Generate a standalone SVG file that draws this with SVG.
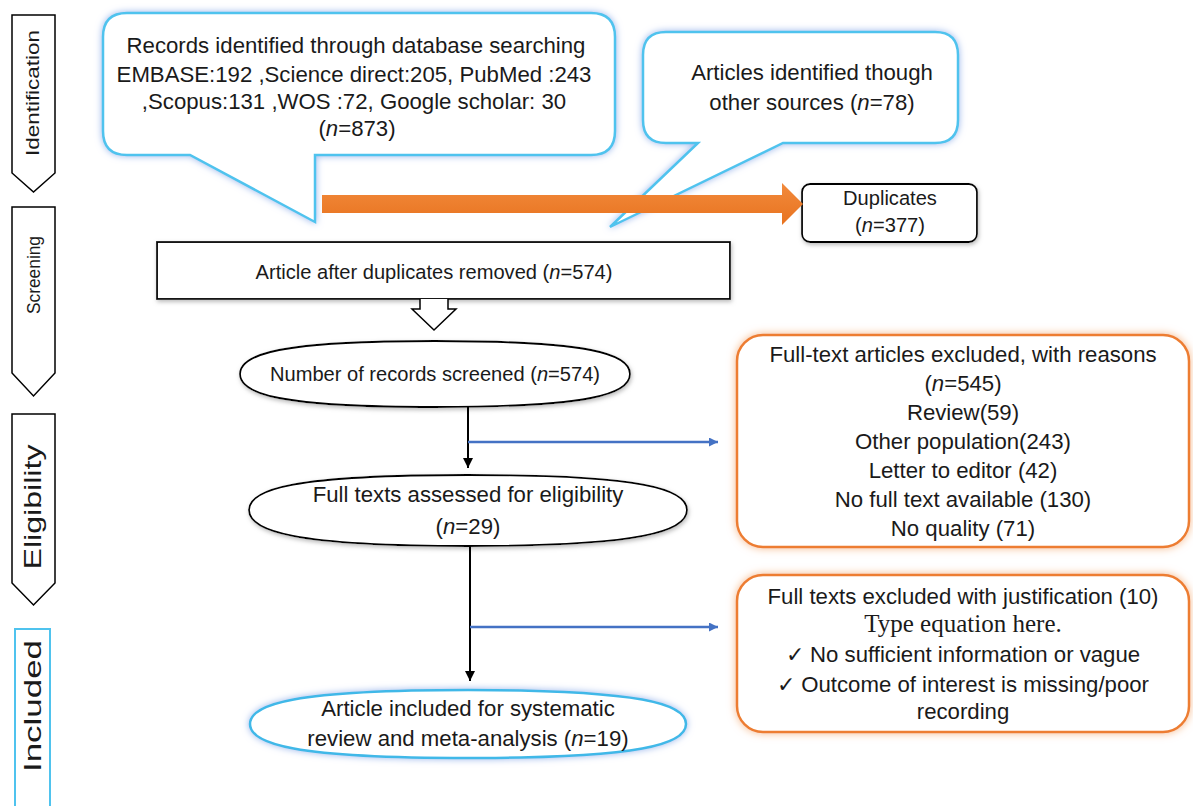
<svg xmlns="http://www.w3.org/2000/svg" width="1193" height="806" viewBox="0 0 1193 806">
<defs>
<style>
text{font-family:"Liberation Sans",Arial,sans-serif;fill:#1a1a1a;text-anchor:middle}
.t22{font-size:22.2px}
.t20{font-size:20.1px}
.it{font-style:italic}
.stage{fill:#fff;stroke:#000;stroke-width:1.5}
.callout{fill:#fff;stroke:#4FC3EE;stroke-width:2.5}
.black{fill:#fff;stroke:#000;stroke-width:1.8}
.orange{fill:#fff;stroke:#ED7D31;stroke-width:2.5}
.incl{fill:#fff;stroke:#3FB8E8;stroke-width:2.5}
.blk{stroke:#000;stroke-width:2;fill:none}
.blu{stroke:#4472C4;stroke-width:2.5;fill:none}
</style>
<filter id="glowB" x="-10%" y="-20%" width="120%" height="140%">
<feGaussianBlur in="SourceAlpha" stdDeviation="3.5" result="b"/>
<feFlood flood-color="#9bb6ec"/>
<feComposite operator="in" in2="b" result="g"/>
<feMerge><feMergeNode in="g"/><feMergeNode in="SourceGraphic"/></feMerge>
</filter>
<filter id="glowO" x="-10%" y="-20%" width="120%" height="140%">
<feGaussianBlur in="SourceAlpha" stdDeviation="4" result="b"/>
<feFlood flood-color="#F6B98C"/>
<feComposite operator="in" in2="b" result="g"/>
<feMerge><feMergeNode in="g"/><feMergeNode in="SourceGraphic"/></feMerge>
</filter>
<filter id="shadow" x="-10%" y="-20%" width="120%" height="150%">
<feGaussianBlur in="SourceAlpha" stdDeviation="2" result="b"/>
<feOffset dx="1" dy="2" in="b" result="o"/>
<feFlood flood-color="#bbbbbb"/>
<feComposite operator="in" in2="o" result="g"/>
<feMerge><feMergeNode in="g"/><feMergeNode in="SourceGraphic"/></feMerge>
</filter>
<linearGradient id="og" x1="0" y1="0" x2="0" y2="1">
<stop offset="0" stop-color="#F28A3C"/>
<stop offset="1" stop-color="#E8731F"/>
</linearGradient>
<marker id="ahK" viewBox="0 0 10 10" refX="10" refY="5" markerWidth="5" markerHeight="5" orient="auto" markerUnits="strokeWidth">
<path d="M0,0 L10,5 L0,10 Z" fill="#000"/>
</marker>
<marker id="ahB" viewBox="0 0 10 10" refX="10" refY="5" markerWidth="4" markerHeight="3.6" orient="auto" markerUnits="strokeWidth">
<path d="M0,0 L10,5 L0,10 Z" fill="#4472C4"/>
</marker>
</defs>
<rect width="1193" height="806" fill="#fff"/>

<g id="stage-identification">
<path class="stage" d="M12,15 H55 V173 L33.5,192 L12,173 Z"/>
<text transform="translate(33,93) rotate(-90)" y="6" style="font-size:18px" textLength="126" lengthAdjust="spacingAndGlyphs">Identification</text>
</g>
<g id="stage-screening">
<path class="stage" d="M12,207 H55 V373 L33.5,396 L12,373 Z"/>
<text transform="translate(33,275) rotate(-90)" y="6.5" style="font-size:19px" textLength="78" lengthAdjust="spacingAndGlyphs">Screening</text>
</g>
<g id="stage-eligibility">
<path class="stage" d="M12,414 H55 V583 L33.5,605 L12,583 Z"/>
<text transform="translate(33,507) rotate(-90)" y="8" style="font-size:24px" textLength="125" lengthAdjust="spacingAndGlyphs">Eligibility</text>
</g>
<g id="stage-included">
<rect x="15" y="629" width="35" height="190" fill="#fff" stroke="#4FC3EE" stroke-width="2"/>
<text transform="translate(33,706) rotate(-90)" y="8" style="font-size:24px" textLength="132" lengthAdjust="spacingAndGlyphs">Included</text>
</g>

<g id="node-database">
<path class="callout" filter="url(#glowB)" d="M127,13 H591 Q615,13 615,37 V131 Q615,155 591,155 H315 V222 L190,155 H127 Q103,155 103,131 V37 Q103,13 127,13 Z"/>
<text class="t22" x="356" y="53">Records identified through database searching</text>
<text class="t22" x="354" y="82">EMBASE:192 ,Science direct:205, PubMed :243</text>
<text class="t22" x="354" y="109">,Scopus:131 ,WOS :72, Google scholar: 30</text>
<text class="t22" x="357" y="136">(<tspan class="it">n</tspan>=873)</text>
</g>

<g id="node-other">
<path class="callout" filter="url(#glowB)" d="M666,32 H935 Q958,32 958,55 V120 Q958,143 935,143 H783 L610,227 L698,143 H666 Q643,143 643,120 V55 Q643,32 666,32 Z"/>
<text class="t22" x="812" y="80">Articles identified though</text>
<text class="t22" x="812" y="110">other sources (<tspan class="it">n</tspan>=78)</text>
</g>

<g id="node-duplicates">
<rect class="black" filter="url(#shadow)" x="802" y="184" width="175" height="58" rx="8"/>
<text class="t20" x="890" y="205">Duplicates</text>
<text class="t20" x="890" y="232">(<tspan class="it">n</tspan>=377)</text>
</g>

<g id="node-after-dup">
<rect class="black" filter="url(#shadow)" x="157" y="242" width="573" height="57"/>
<text class="t20" x="434" y="279">Article after duplicates removed (<tspan class="it">n</tspan>=574)</text>
</g>

<g id="node-screened">
<path class="black" filter="url(#shadow)" d="M240,374 C240,354 279,341 435,341 C591,341 630,354 630,374 C630,394 591,407 435,407 C279,407 240,394 240,374 Z"/>
<text class="t20" x="435" y="381">Number of records screened (<tspan class="it">n</tspan>=574)</text>
</g>

<g id="node-fulltext">
<path class="black" filter="url(#shadow)" d="M249,510 C249,489 293,475 468,475 C643,475 687,489 687,510 C687,531 643,546 468,546 C293,546 249,531 249,510 Z"/>
<text class="t22" x="468" y="502">Full texts assessed for eligibility</text>
<text class="t22" x="468" y="534">(<tspan class="it">n</tspan>=29)</text>
</g>

<g id="node-included">
<path class="incl" filter="url(#glowB)" d="M250,724 C250,704 294,690 468,690 C642,690 686,704 686,724 C686,744 642,758 468,758 C294,758 250,744 250,724 Z"/>
<text class="t22" x="468" y="716">Article included for systematic</text>
<text class="t22" x="468" y="746">review and meta-analysis (<tspan class="it">n</tspan>=19)</text>
</g>

<g id="node-excluded1">
<rect class="orange" filter="url(#glowO)" x="737" y="335" width="452" height="212" rx="26"/>
<text class="t22" x="963" y="362">Full-text articles excluded, with reasons</text>
<text class="t22" x="963" y="391">(<tspan class="it">n</tspan>=545)</text>
<text class="t22" x="963" y="420">Review(59)</text>
<text class="t22" x="963" y="449">Other population(243)</text>
<text class="t22" x="963" y="478">Letter to editor (42)</text>
<text class="t22" x="963" y="507">No full text available (130)</text>
<text class="t22" x="963" y="536">No quality (71)</text>
</g>

<g id="node-excluded2">
<rect class="orange" filter="url(#glowO)" x="737" y="575" width="452" height="157" rx="26"/>
<text class="t22" x="963" y="604">Full texts excluded with justification (10)</text>
<text x="963" y="632" style="font-family:'Liberation Serif','Times New Roman',serif;font-size:25px">Type equation here.</text>
<text class="t22" x="963" y="662">✓ No sufficient information or vague</text>
<text class="t22" x="963" y="692">✓ Outcome of interest is missing/poor</text>
<text class="t22" x="963" y="719">recording</text>
</g>

<g id="connectors">
<path d="M322,195 H782 V183 L803,204 L782,225 V213 H322 Z" fill="url(#og)"/>
<path d="M420,299 V309 H412 L434,330 L456,309 H448 V299" fill="#fff" stroke="#000" stroke-width="1.5"/>
<line class="blk" x1="468" y1="407" x2="468" y2="468" marker-end="url(#ahK)"/>
<line class="blu" x1="468" y1="442" x2="718" y2="442" marker-end="url(#ahB)"/>
<line class="blk" x1="470" y1="546" x2="470" y2="681" marker-end="url(#ahK)"/>
<line class="blu" x1="470" y1="627" x2="718" y2="627" marker-end="url(#ahB)"/>
</g>
</svg>
